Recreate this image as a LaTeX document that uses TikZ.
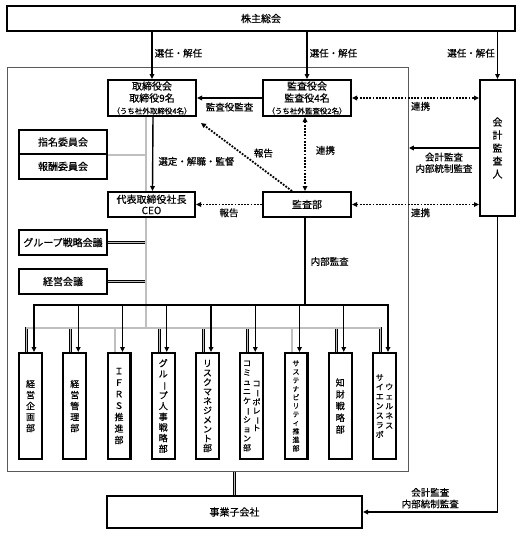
\documentclass[tikz,border=0pt]{standalone}
\usepackage{fontspec}
\setmainfont{Noto Sans CJK JP}[FakeBold=0.4]
\usetikzlibrary{arrows.meta,calc}

\makeatletter
\newcommand{\tate}[2][11pt]{%
    \parbox[c]{1em}{\baselineskip=#1\relax
        \@tfor\tch:=#2\do{\hbox to 1em{\hss\tch\hss}}}}
\makeatother
\newcommand{\cho}{\rotatebox[origin=c]{-90}{ー}}
\newcommand{\smtxt}[1]{{\fontsize{7.5}{9}\selectfont #1}}

\begin{document}
\begin{tikzpicture}[x=1pt, y=-1pt, >={Triangle[length=5pt, width=4.6pt]},
        box/.style={draw, line width=2.2pt, fill=white, inner sep=0pt,
            align=center, font=\fontsize{10}{12}\selectfont},
        dept/.style={box, minimum width=22.8pt, minimum height=105.8pt,
            font=\fontsize{9}{11}\selectfont},
        lbl/.style={font=\fontsize{9.5}{11.5}\selectfont, inner sep=2pt,
            align=center},
        arr/.style={line width=1.4pt, ->},
        dots/.style={line width=1.8pt, dash pattern=on 1.8pt off 1.4pt},
        dbl/.style={draw=black, line width=0.75pt, double=gray!50,
            double distance=1.4pt}]
    \useasboundingbox (0,0) rectangle (524,535);

    \node[draw=gray!70!black, line width=0.8pt, minimum width=401pt,
        minimum height=404pt, inner sep=0pt] (frame) at (208,269.5) {};

    \node[box, minimum width=507.8pt, minimum height=24.8pt] (gm) at (261,18.5) {株主総会};
    \node[box, minimum width=87.8pt, minimum height=35.8pt] (board) at (152,98)
        {取締役会\\取締役9名\\\smtxt{（うち社外取締役4名）}};
    \node[box, minimum width=87.8pt, minimum height=35.8pt] (kansa) at (307,98)
        {監査役会\\監査役4名\\\smtxt{（うち社外監査役2名）}};
    \node[box, minimum width=34.8pt, minimum height=135.8pt] (auditor) at (497.5,148)
        {\tate[13pt]{会計監査人}};
    \node[box, minimum width=87.8pt, minimum height=23.8pt] (nom) at (63,142) {指名委員会};
    \node[box, minimum width=87.8pt, minimum height=25pt] (rem) at (63,166.4) {報酬委員会};
    \node[box, minimum width=86.8pt, minimum height=24.8pt,
        font=\fontsize{10}{11}\selectfont] (ceo) at (151.5,204.5) {代表取締役社長\\CEO};
    \node[box, minimum width=87.8pt, minimum height=24.8pt] (audit) at (307,204.5) {監査部};
    \node[box, minimum width=87.8pt, minimum height=24.8pt] (grp) at (63,242.5) {グループ戦略会議};
    \node[box, minimum width=87.8pt, minimum height=24.8pt] (mtg) at (63,281.5) {経営会議};
    \node[box, minimum width=254.8pt, minimum height=31.8pt] (sub) at (234.5,512) {事業子会社};

    \foreach \name/\txt [count=\i from 0] in {
        kikaku/{\tate{経営企画部}},
        kanri/{\tate{経営管理部}},
        ifrs/{\tate[11.5pt]{ＩＦＲＳ推進部}},
        jinji/{\tate[10.7pt]{グル\cho プ人事戦略部}},
        risk/{\tate[9.4pt]{リスクマネジメント部}},
        comm/{\fontsize{8}{9}\selectfont\tate[9.4pt]{コミュニケ\cho ション部}%
            \hspace{1.5pt}\tate[8.6pt]{コ\cho ポレ\cho ト}},
        sus/{\fontsize{7}{8}\selectfont\tate[8.5pt]{サステナビリティ推進部}},
        chizai/{\tate[11.7pt]{知財戦略部}},
        lab/{\fontsize{8}{9}\selectfont\tate[9.5pt]{サイエンスラボ}%
            \hspace{1.5pt}\tate[9.7pt]{ウェルネス}}%
    } {
        \node[dept] (\name) at (30.5+44.25*\i, 406) {\txt};
    }

    % organisation lines
    \coordinate (bus) at (146,328);
    \draw[dbl] (board.south -| bus) -- (ceo.north -| bus)
        (ceo.south -| bus) -- (bus)
        (nom.south east) -- (nom.south east -| bus)
        (grp.east) -- (grp.east -| bus)
        (mtg.east) -- (mtg.east -| bus)
        ($(kikaku.north)+(-4,0)$) -- ($(kikaku.north |- bus)+(-4,0)$)
            -- ($(lab.north |- bus)+(-4,0)$) -- ($(lab.north)+(-4,0)$)
        foreach \d in {kanri,ifrs,jinji,risk,comm,sus,chizai} {
            ($(\d.north |- bus)+(-4,0)$) -- ($(\d.north)+(-4,0)$)
        };
    \draw[dbl] (sub.north |- frame.south) -- (sub.north);

    % internal audit
    \coordinate (abus) at (305,305);
    \draw[line width=1.4pt] ([xshift=-2pt]audit.south) -- (abus)
        node[lbl, midway, right=3pt] {内部監査};
    \draw[line width=1.4pt, line cap=rect] ($(kikaku.north |- abus)+(3.5,0)$)
        -- ($(lab.north |- abus)+(3.5,0)$);
    \foreach \d in {kikaku,kanri,ifrs,jinji,risk,comm,sus,chizai,lab}
        \draw[arr] ($(\d.north |- abus)+(3.5,0)$) -- ($(\d.north)+(3.5,0)$);

    \foreach \t/\s in {board/right, kansa/right, auditor/left}
        \draw[arr] (gm.south -| \t) -- (\t.north)
            node[lbl, pos=0.45, \s] {選任・解任};

    \draw[arr] ([xshift=1pt]board.south) -- ([xshift=1pt]ceo.north)
        node[lbl, pos=0.6, right=3pt] {選定・解職・監督};
    \draw[arr] (kansa.west) -- (board.east)
        node[lbl, midway, below=2pt] {監査役監査};

    \draw[dots, <->] (kansa.east) -- (kansa.east -| auditor.west)
        node[lbl, pos=0.54, below=1pt] {連携};
    \draw[dots, <->] (audit.east) -- (audit.east -| auditor.west)
        node[lbl, pos=0.54, below=1pt] {連携};
    \draw[dots, <->] ([xshift=-2pt]kansa.south) -- ([xshift=-2pt]audit.north)
        node[lbl, pos=0.45, right=8pt] {連携};
    \draw[dots, ->] (audit.west) -- (ceo.east)
        node[lbl, midway, below=1pt] {報告};
    \draw[dots, ->] ([xshift=-15pt]audit.north) -- ([shift={(4pt,-6pt)}]board.south east)
        node[lbl, pos=0.45, above right] {報告};

    \draw[arr] (auditor.west) -- (auditor.west -| frame.east)
        node[lbl, midway, below=2pt] {会計監査\\内部統制監査};
    \draw[arr] (auditor.south) |- (sub.east)
        node[lbl, pos=0.75, above=1pt] {会計監査\\内部統制監査};
\end{tikzpicture}
\end{document}
